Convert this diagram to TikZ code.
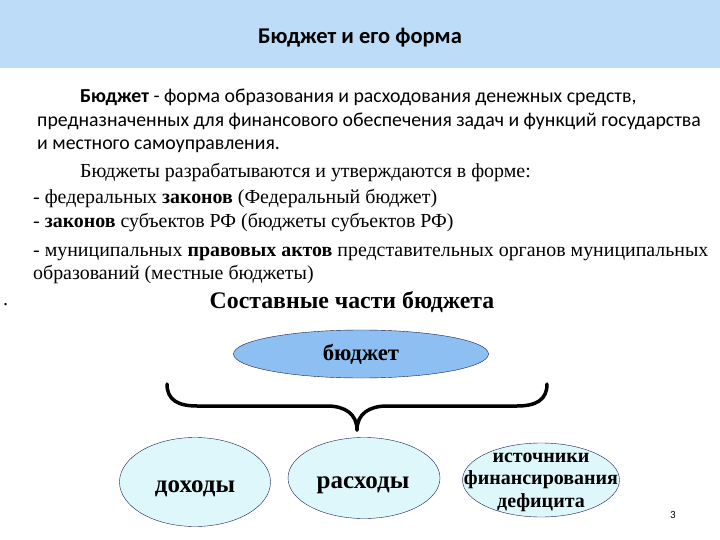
\documentclass[tikz,border=0pt]{standalone}
\usepackage{fontspec}
\setmainfont{Liberation Serif}
\newfontfamily\calib{Carlito}
\usetikzlibrary{shapes.geometric,positioning}
\definecolor{hdrblue}{HTML}{BDDCF7}
\definecolor{topblue}{HTML}{8DBFF2}
\definecolor{partcyan}{HTML}{DDF7FA}
\definecolor{edgenavy}{HTML}{1A2250}

\begin{document}
\begin{tikzpicture}[x=1pt,y=-1pt,
        hdr/.style={fill=hdrblue,minimum width=720pt,minimum height=68pt,inner sep=0pt},
        def/.style={anchor=base west,inner sep=0pt,font=\calib\fontsize{19.8}{20}\selectfont},
        txt/.style={anchor=base west,inner sep=0pt,font=\fontsize{19.9}{20}\selectfont},
        part/.style={ellipse,draw=edgenavy,fill=partcyan,inner sep=0pt},
        ptxt/.style={anchor=base,inner sep=0pt,font=\bfseries\fontsize{25}{26}\selectfont}]
    \useasboundingbox (0,0) rectangle (720,540);
    \node[hdr] (band) at (360,34) {};
    \node[anchor=base,inner sep=0pt,font=\calib\bfseries\fontsize{22.5}{24}\selectfont] (title) at (360,44) {Бюджет и его форма};

    % definition
    \node[def] (d1) at (80,103)  {\textbf{Бюджет} - форма образования и расходования денежных средств,};
    \node[def] (d2) at (37,127)  {предназначенных для финансового обеспечения задач и функций государства};
    \node[def] (d3) at (37,150)  {и местного самоуправления.};

    % forms
    \node[txt] (f1) at (80,178)  {Бюджеты разрабатываются и утверждаются в форме:};
    \node[txt] (f2) at (33,204)  {- федеральных \textbf{законов} (Федеральный бюджет)};
    \node[txt] (f3) at (33,228)  {- \textbf{законов} субъектов РФ (бюджеты субъектов РФ)};
    \node[txt] (f4) at (33,256)  {- муниципальных \textbf{правовых актов} представительных органов муниципальных};
    \node[txt] (f5) at (33,279)  {образований (местные бюджеты)};

    \node[txt] (dot) at (3,305) {.};
    \node[font=\bfseries\fontsize{23.8}{24}\selectfont] (parts) at (352,302) {Составные части бюджета};

    \node[part,fill=topblue,minimum width=255pt,minimum height=48pt,
          font=\bfseries\fontsize{22.7}{24}\selectfont] (budget) at (361,354) {бюджет};
    \node[part,minimum width=151pt,minimum height=89pt] (inc) at (195,482) {};
    \node[part,minimum width=152pt,minimum height=81pt] (exp) at (364,478) {};
    \node[part,minimum width=157pt,minimum height=74pt] (src) at (541,480) {};
    \node[ptxt] (inct) at (195,492) {доходы};
    \node[ptxt] (expt) at (363,488) {расходы};
    \node[align=center,inner sep=0pt,font=\bfseries\fontsize{20}{22.5}\selectfont] (srct) at (541,482) {источники\\финансирования\\дефицита};

    \node[font=\calib\fontsize{11}{12}\selectfont] (pg) at (673,515) {3};

    % brace
    \coordinate (bl) at (167,384);
    \coordinate (br) at (547,384);
    \coordinate (bm) at (357,430);
    \begin{scope}[line width=3.5pt,line cap=round]
        \draw (bl) .. controls (167,400) and (178,406) .. (197,406) -- (327,406)
                   .. controls (345,406) and (357,414) .. (bm);
        \draw (br) .. controls (547,400) and (536,406) .. (517,406) -- (387,406)
                   .. controls (369,406) and (357,414) .. (bm);
    \end{scope}
\end{tikzpicture}
\end{document}
